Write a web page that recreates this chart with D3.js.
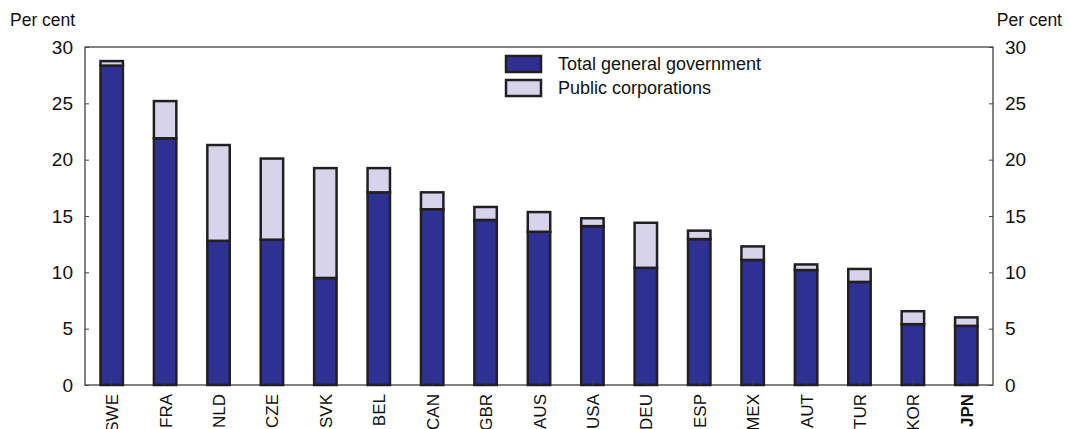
<!DOCTYPE html>
<html>
<head>
<meta charset="utf-8">
<script src="https://cdn.jsdelivr.net/npm/d3@7/dist/d3.min.js"></script>
<style>
  html, body { margin: 0; padding: 0; background: #fff; }
  svg { display: block; font-family: "Liberation Sans", Arial, sans-serif; }
</style>
</head>
<body>
<svg id="chart" width="1069" height="429"></svg>
<script>
// Country codes, ordered by total
const countries = ["SWE","FRA","NLD","CZE","SVK","BEL","CAN","GBR","AUS","USA","DEU","ESP","MEX","AUT","TUR","KOR","JPN"];
// Per cent, general government part
const generalGov = [28.35, 21.9, 12.8, 12.9, 9.5, 17.1, 15.6, 14.65, 13.6, 14.1, 10.4, 12.95, 11.1, 10.2, 9.15, 5.4, 5.25];
// Per cent, public corporations part (stacked on top)
const publicCorp = [0.4, 3.3, 8.5, 7.2, 9.75, 2.15, 1.5, 1.15, 1.75, 0.7, 4.0, 0.75, 1.2, 0.5, 1.15, 1.15, 0.75];
const yTicks = [0, 5, 10, 15, 20, 25, 30];
const seriesNames = ["Total general government", "Public corporations"];
const seriesColors = ["#2e3092", "#d6d3ea"];

const svg = d3.select("#chart");
const plotLeft = 85, plotRight = 993, plotTop = 47, plotBottom = 385;

const x = d3.scaleBand().domain(countries).range([plotLeft, plotRight]).paddingInner(0.58).paddingOuter(0.29);
const y = d3.scaleLinear().domain([0, 30]).range([plotBottom, plotTop]);

const rows = countries.map((c, i) => ({ c, gov: generalGov[i], corp: publicCorp[i] }));
const stack = d3.stack().keys(["gov", "corp"])(rows);

// Frame
svg.append("rect").attr("x", plotLeft).attr("y", plotTop).attr("width", plotRight - plotLeft).attr("height", plotBottom - plotTop)
  .attr("fill", "none").attr("stroke", "#5a5a5a").attr("stroke-width", 1.5);

// Bars
stack.forEach((layer, k) => {
  svg.append("g").selectAll("rect").data(layer).join("rect")
    .attr("x", d => x(d.data.c))
    .attr("width", x.bandwidth())
    .attr("y", d => y(d[1]))
    .attr("height", d => y(d[0]) - y(d[1]))
    .attr("fill", seriesColors[k])
    .attr("stroke", "#231f20")
    .attr("stroke-width", 2.5);
});

// Left axis
const yl = svg.append("g").attr("transform", `translate(${plotLeft},0)`)
  .call(d3.axisRight(y).tickValues(yTicks).tickSize(4).tickFormat(""));
yl.select(".domain").remove();
yl.selectAll("line").attr("stroke", "#444");
svg.append("g").selectAll("text").data(yTicks).join("text")
  .attr("x", 73).attr("y", d => y(d)).attr("dy", "0.35em")
  .attr("text-anchor", "end").attr("font-size", 19).attr("fill", "#111").text(d => d);

// Right axis
const yr = svg.append("g").attr("transform", `translate(${plotRight},0)`)
  .call(d3.axisLeft(y).tickValues(yTicks).tickSize(4).tickFormat(""));
yr.select(".domain").remove();
yr.selectAll("line").attr("stroke", "#444");
svg.append("g").selectAll("text").data(yTicks).join("text")
  .attr("x", 1005).attr("y", d => y(d)).attr("dy", "0.35em")
  .attr("text-anchor", "start").attr("font-size", 19).attr("fill", "#111").text(d => d);

// Unit labels
svg.append("text").attr("x", 10).attr("y", 26).attr("font-size", 17.5).attr("fill", "#111").text("Per cent");
svg.append("text").attr("x", 1062).attr("y", 26).attr("text-anchor", "end").attr("font-size", 17.5).attr("fill", "#111").text("Per cent");

// Bottom axis: small ticks at bar centres, rotated labels
const xb = svg.append("g").attr("transform", `translate(0,${plotBottom})`)
  .call(d3.axisTop(x).tickSize(4).tickFormat(""));
xb.select(".domain").remove();
xb.selectAll("line").attr("stroke", "#444");
svg.append("g").selectAll("text").data(countries).join("text")
  .attr("transform", d => `translate(${x(d) + x.bandwidth() / 2 + 6.5},${plotBottom + 9}) rotate(-90)`)
  .attr("text-anchor", "end").attr("font-size", 17).attr("fill", "#111")
  .attr("font-weight", d => d === "JPN" ? "bold" : "normal")
  .text(d => d);

// Legend
const lg = svg.append("g").attr("transform", "translate(506,56)");
seriesNames.forEach((name, i) => {
  lg.append("rect").attr("x", 0).attr("y", i * 24).attr("width", 35).attr("height", 16)
    .attr("fill", seriesColors[i]).attr("stroke", "#231f20").attr("stroke-width", 2.5);
  lg.append("text").attr("x", 52).attr("y", i * 24 + 8).attr("dy", "0.35em")
    .attr("font-size", 18).attr("fill", "#111").text(name);
});
</script>
</body>
</html>
